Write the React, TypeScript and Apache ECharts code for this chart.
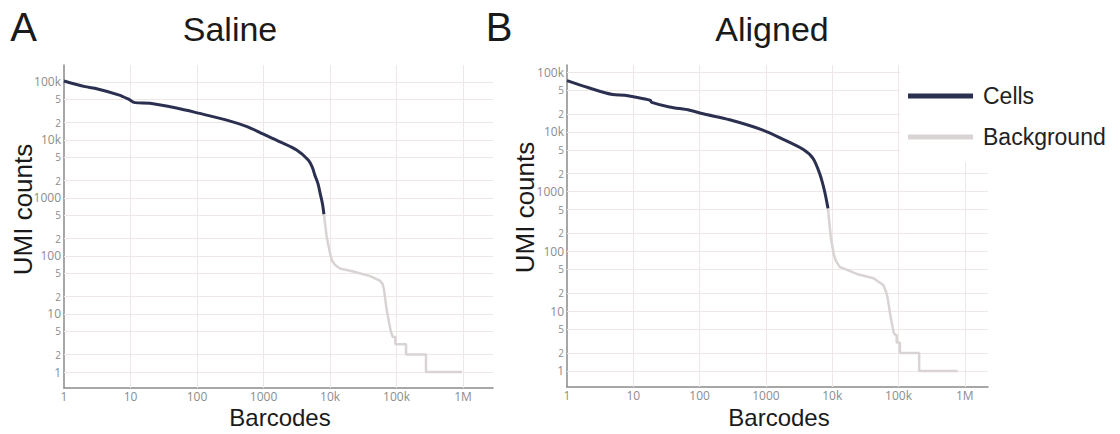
import React, { useEffect, useRef } from 'react';
import * as echarts from 'echarts';

// ---- Data ----
const salineCellsX = [1, 2.07, 2.9, 6.6, 9.2, 11.7, 19.6, 49, 105, 280, 565, 1000, 1770, 3150, 4700, 5400, 5900, 6600, 7100, 7700, 8100];
const salineCellsY = [104000, 83000, 78000, 60000, 51000, 44000, 43000, 35500, 29000, 22000, 17000, 12600, 9300, 6700, 4500, 3400, 2500, 1750, 1200, 790, 520];

const salineBgX = [8100, 8900, 10000, 10600, 11900, 14100, 22400, 40000, 56000, 61500, 65000, 71000, 76000, 82000, 88000, 96000, 96000, 139000, 139000, 277000, 277000, 966000];
const salineBgY = [520, 215, 111, 85, 70, 61, 54, 45, 37.6, 33, 26, 11.7, 7.9, 5, 4, 4, 3, 3, 2, 2, 1, 1];

const alignedCellsX = [1, 2.07, 4.9, 7.4, 15.7, 18, 19, 35, 71, 113, 284, 900, 1820, 3630, 5130, 6470, 7700, 8650];
const alignedCellsY = [71600, 55000, 42000, 41000, 35000, 33500, 31000, 26000, 23000, 20000, 15900, 10700, 7500, 5100, 3600, 2000, 1000, 520];

const alignedBgX = [8650, 9500, 10500, 11300, 13000, 23500, 42000, 59000, 64000, 68000, 76000, 85000, 90000, 94000, 94000, 105000, 105000, 205000, 205000, 780000];
const alignedBgY = [520, 176, 93, 70, 55, 42, 35.5, 27.4, 22, 17.5, 8.1, 4.3, 4, 4, 3, 3, 2, 2, 1, 1];

const xTickValues = [1, 10, 100, 1000, 10000, 100000, 1000000];
const xTickLabels = ['1', '10', '100', '1000', '10k', '100k', '1M'];
const yTickValues = [1, 2, 5, 10, 20, 50, 100, 200, 500, 1000, 2000, 5000, 10000, 20000, 50000, 100000];
const yTickLabels = ['1', '2', '5', '10', '2', '5', '100', '2', '5', '1000', '2', '5', '10k', '2', '5', '100k'];

const seriesNames = ['Cells', 'Background'];
const panelTitles = ['Saline', 'Aligned'];
const panelLetters = ['A', 'B'];

// ---- Styles ----
const CELL = '#2c3050';
const BG = '#d9d3d3';
const GRID = '#efe6e6';
const AXIS = '#8a8a8a';
const TICK = '#8c8c8c';
const SANS = "'Liberation Sans', Arial, sans-serif";
const TICKFONT = "'Open Sans', 'Noto Sans', sans-serif";

const pairs = (xs: number[], ys: number[]) => xs.map((x, i) => [x, ys[i]]);

const gridLineData = () => [
  ...yTickValues.map((v, i) => {
    const decade = Math.abs(Math.log10(v) - Math.round(Math.log10(v))) < 1e-9;
    return {
      name: yTickLabels[i],
      yAxis: v,
      label: { fontSize: decade ? 12 : 10 },
    };
  }),
  ...xTickValues.map((v, i) => {
    const item: any = { name: xTickLabels[i], xAxis: v, label: { distance: 2 } };
    if (v === 1) item.lineStyle = { color: 'rgba(255,255,255,0)' };
    return item;
  }),
];

const axisCommon = {
  type: 'log' as const,
  logBase: 10,
  axisLine: { show: true, onZero: false, lineStyle: { color: AXIS, width: 1.5 } },
  axisTick: { show: false },
  axisLabel: { show: false },
  splitLine: { show: false },
};

function lineSeries(name: string, idx: number, data: number[][], color: string, width: number, smooth: number | boolean, withGrid: boolean) {
  const s: any = {
    name,
    type: 'line',
    xAxisIndex: idx,
    yAxisIndex: idx,
    data,
    symbol: 'none',
    showSymbol: false,
    smooth,
    color,
    lineStyle: { color, width },
    z: 3,
    emphasis: { disabled: true },
  };
  if (withGrid) {
    s.markLine = {
      silent: true,
      z: 1,
      symbol: ['none', 'none'],
      animation: false,
      emphasis: { disabled: true },
      lineStyle: { color: GRID, type: 'solid', width: 1 },
      label: {
        show: true,
        position: 'start',
        formatter: '{b}',
        color: TICK,
        fontSize: 12,
        fontFamily: TICKFONT,
        distance: 3,
      },
      data: gridLineData(),
    };
  }
  return s;
}

function textEl(text: string, x: number, y: number, size: number, align: string, rotation = 0, color = '#1a1a1a') {
  return {
    type: 'text',
    x,
    y,
    rotation,
    z: 10,
    style: {
      text,
      fill: color,
      fontSize: size,
      fontFamily: SANS,
      textAlign: align,
      textVerticalAlign: 'middle',
      align,
      verticalAlign: 'middle',
    },
  };
}

export default function App() {
  const ref = useRef<HTMLDivElement>(null);
  useEffect(() => {
    document.body.style.margin = '0';
    if (!ref.current) return;
    const chart = echarts.init(ref.current, undefined, { renderer: 'svg' });
    const option: any = {
      animation: false,
      backgroundColor: '#ffffff',
      grid: [
        { left: 64, top: 65, width: 429, height: 323 },
        { left: 567, top: 65, width: 421, height: 322 },
      ],
      xAxis: [
        { ...axisCommon, gridIndex: 0, min: 1, max: 2820000 },
        { ...axisCommon, gridIndex: 1, min: 1, max: 2240000 },
      ],
      yAxis: [
        { ...axisCommon, gridIndex: 0, min: 0.53, max: 196000 },
        { ...axisCommon, gridIndex: 1, min: 0.54, max: 131000 },
      ],
      legend: {
        data: seriesNames,
        orient: 'vertical',
        left: 900,
        top: 63,
        padding: [20, 10, 12, 8],
        backgroundColor: '#ffffff',
        icon: 'rect',
        itemWidth: 65,
        itemHeight: 5,
        itemGap: 15,
        selectedMode: false,
        z: 6,
        textStyle: { fontSize: 23, color: '#222222', fontFamily: SANS, lineHeight: 26, padding: [0, 0, 0, 5] },
      },
      series: [
        lineSeries(seriesNames[0], 0, pairs(salineCellsX, salineCellsY), CELL, 3, 0.3, false),
        lineSeries(seriesNames[1], 0, pairs(salineBgX, salineBgY), BG, 2.5, false, true),
        lineSeries(seriesNames[0], 1, pairs(alignedCellsX, alignedCellsY), CELL, 3, 0.3, false),
        lineSeries(seriesNames[1], 1, pairs(alignedBgX, alignedBgY), BG, 2.5, false, true),
      ],
      graphic: [
        textEl(panelLetters[0], 23.5, 27, 40, 'center'),
        textEl(panelTitles[0], 230, 28.5, 34, 'center'),
        textEl(panelLetters[1], 499, 27, 40, 'center'),
        textEl(panelTitles[1], 772, 28.5, 34, 'center'),
        textEl('UMI counts', 22.5, 209.5, 26, 'center', Math.PI / 2),
        textEl('UMI counts', 525, 207.5, 26, 'center', Math.PI / 2),
        textEl('Barcodes', 280, 417, 24, 'center'),
        textEl('Barcodes', 779, 417, 24, 'center'),
      ],
    };
    chart.setOption(option);
    return () => chart.dispose();
  }, []);
  return <div ref={ref} style={{ width: 1120, height: 434 }} />;
}
